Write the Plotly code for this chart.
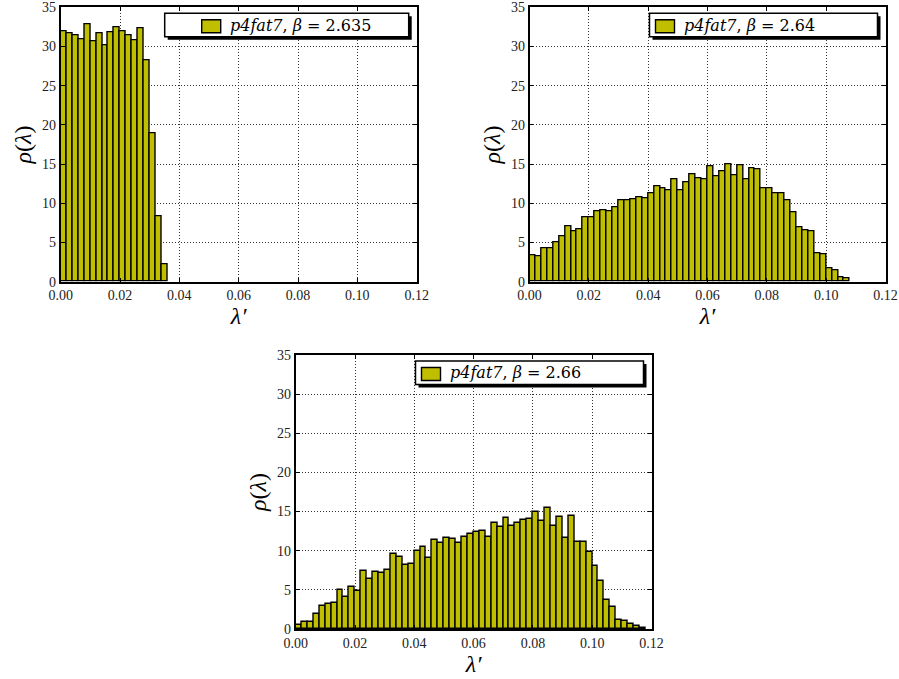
import numpy as np
import plotly.graph_objects as go

# ---------------- data ----------------
bin_width = 0.002
bin_start = 0.0

rho_2635 = [31.9, 31.7, 31.4, 30.9, 32.8, 30.7, 31.7, 30.2, 31.8, 32.4, 32.0, 31.4,
            30.8, 32.3, 28.3, 18.9, 8.4, 2.2]

rho_264 = [3.43, 3.26, 4.32, 4.32, 5.0, 5.8, 7.03, 6.48, 6.69, 8.22, 8.22, 9.03,
           9.15, 9.03, 9.49, 10.42, 10.34, 10.51, 10.72, 10.68, 11.31, 12.16, 11.93, 11.61,
           13.09, 11.65, 12.67, 13.73, 13.22, 13.0, 14.75, 13.43, 14.11, 15.0, 13.6, 14.9,
           13.0, 14.5, 14.4, 11.86, 11.95, 11.31, 11.31, 10.34, 8.81, 7.0, 6.53, 6.4,
           3.64, 3.52, 1.74, 1.44, 0.55, 0.42]

rho_266 = [0.55, 0.94, 0.94, 1.91, 2.94, 3.19, 3.32, 5.02, 4.13, 5.4, 4.85, 7.36,
           6.38, 7.32, 7.19, 7.49, 9.53, 9.15, 8.17, 8.3, 9.91, 10.51, 9.02, 11.36,
           10.94, 11.66, 11.49, 10.94, 11.79, 12.09, 12.38, 12.51, 11.79, 13.49, 13.06, 14.17,
           13.19, 13.49, 13.91, 14.09, 14.89, 13.79, 15.4, 13.19, 14.34, 11.66, 14.47, 11.15,
           11.15, 9.87, 8.04, 6.09, 3.74, 2.81, 1.11, 0.98, 0.68, 0.43, 0.17]

series = [
    ("p4fat7", "2.635", rho_2635),
    ("p4fat7", "2.64", rho_264),
    ("p4fat7", "2.66", rho_266),
]

x_ticks = [0.00, 0.02, 0.04, 0.06, 0.08, 0.10, 0.12]
y_ticks = [0, 5, 10, 15, 20, 25, 30, 35]

# ---------------- layout geometry (pixels) ----------------
W, H = 899, 679
panels = [  # left, right, top, bottom  (plot area, px)
    (60.7, 416.7, 7.3, 281.7),
    (529.5, 885.5, 7.3, 281.7),
    (295.7, 651.5, 355.0, 629.0),
]
legend_w = [244, 228, 228]

BAR = "#BFBF00"
SERIF = "Liberation Serif"
SERIF2 = "DejaVu Serif"

fig = go.Figure()

for i, ((name, beta, vals), (l, r, t, b)) in enumerate(zip(series, panels)):
    idx = "" if i == 0 else str(i + 1)
    centers = bin_start + bin_width * (np.arange(len(vals)) + 0.5)
    fig.add_trace(go.Bar(
        x=centers, y=vals, width=bin_width,
        marker=dict(color=BAR, line=dict(color="black", width=1.4)),
        xaxis="x" + idx, yaxis="y" + idx, showlegend=False,
        name=f"{name}, β = {beta}",
    ))
    axcommon = dict(
        showline=True, linecolor="black", linewidth=1.6, mirror="ticks",
        showgrid=True, gridcolor="#333", griddash="1px,2px", gridwidth=1,
        zeroline=False, ticks="inside", ticklen=4, tickcolor="black",
        automargin=False,
        tickfont=dict(family=SERIF, size=14, color="#222"),
    )
    fig.update_layout(**{
        "xaxis" + idx: dict(
            domain=[l / W, r / W], anchor="y" + idx, range=[0, 0.12],
            tickvals=x_ticks, tickformat=".2f",
            title=dict(text="<i>λ′</i>", font=dict(family=SERIF, size=24, color="black"), standoff=0),
            **axcommon),
        "yaxis" + idx: dict(
            domain=[1 - b / H, 1 - t / H], anchor="x" + idx, range=[0, 35],
            tickvals=y_ticks,
            title=dict(text="<i>ρ</i>(<i>λ</i>)", font=dict(family=SERIF, size=24, color="black"), standoff=4),
            **axcommon),
    })

    # legend box (gnuplot style, with shadow)
    lw = legend_w[i]
    bx1 = r - 8
    bx0 = bx1 - lw
    by0 = t + 6
    by1 = by0 + 23.5
    def px(x): return x / W
    def py(y): return 1 - y / H
    fig.add_shape(type="rect", xref="paper", yref="paper",
                  x0=px(bx0 + 3), x1=px(bx1 + 3), y0=py(by1 + 3), y1=py(by0 + 3),
                  fillcolor="black", line=dict(width=0), layer="above")
    fig.add_shape(type="rect", xref="paper", yref="paper",
                  x0=px(bx0), x1=px(bx1), y0=py(by1), y1=py(by0),
                  fillcolor="white", line=dict(color="black", width=1.5), layer="above")
    sx0 = bx0 + 37 if i == 0 else bx0 + 6
    fig.add_shape(type="rect", xref="paper", yref="paper",
                  x0=px(sx0), x1=px(sx0 + 19), y0=py(by0 + 19.5), y1=py(by0 + 6.5),
                  fillcolor=BAR, line=dict(color="black", width=1.4), layer="above")
    fig.add_annotation(xref="paper", yref="paper", x=px(sx0 + 26), y=py((by0 + by1) / 2),
                       xanchor="left", yanchor="middle", showarrow=False,
                       text=f"<i>{name}</i>, <i>β</i> = {beta}",
                       font=dict(family=SERIF2, size=16, color="black"))

fig.update_layout(
    width=W, height=H, margin=dict(l=0, r=0, t=0, b=0),
    paper_bgcolor="white", plot_bgcolor="white", bargap=0,
    showlegend=False, font=dict(family=SERIF),
)

fig.write_html("out.html")
